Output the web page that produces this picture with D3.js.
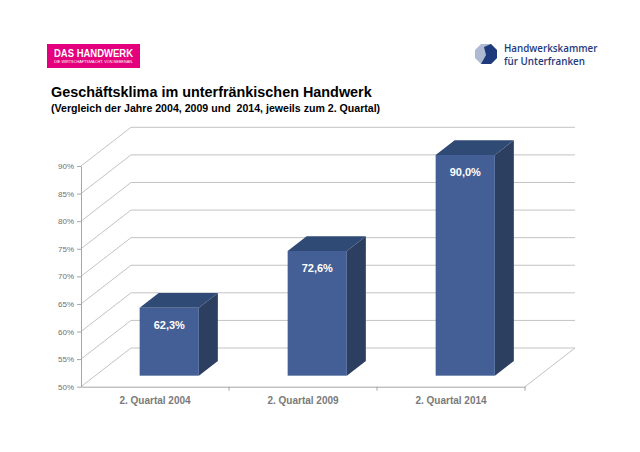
<!DOCTYPE html>
<html><head><meta charset="utf-8">
<script src="https://cdn.jsdelivr.net/npm/d3@7"></script>
<style>
html,body{margin:0;padding:0;background:#fff;}
svg{display:block;font-family:"Liberation Sans",Arial,sans-serif;}
</style></head>
<body>
<svg id="c" width="640" height="452"></svg>
<script>
const categories = ["2. Quartal 2004", "2. Quartal 2009", "2. Quartal 2014"];
const values = [62.3, 72.6, 90.0];
const valueLabels = ["62,3%", "72,6%", "90,0%"];
const yTicks = [50, 55, 60, 65, 70, 75, 80, 85, 90];
const title = "Geschäftsklima im unterfränkischen Handwerk";
const subtitle = "(Vergleich der Jahre 2004, 2009 und  2014, jeweils zum 2. Quartal)";

const svg = d3.select("#c");
const x = d3.scaleBand().domain(categories).range([81, 525]).padding(0);
const y = d3.scaleLinear().domain([50, 90]).range([386.7, 166]);
const DX = 50, DY = -38.7;           // depth of the plot box
const f0 = 0.285, fd = 0.38;         // bar depth start and bar depth
const barW = x.bandwidth() * 0.4;
const gridCol = "#c3c3c3";

// ---- logos ----
const lg = svg.append("g");
lg.append("rect").attr("x", 47).attr("y", 44).attr("width", 93).attr("height", 24).attr("fill", "#e4007c");
lg.append("text").attr("x", 54).attr("y", 57).attr("fill", "#fff").attr("font-weight", "bold")
  .attr("font-size", 10.5).attr("textLength", 79).attr("lengthAdjust", "spacingAndGlyphs").text("DAS HANDWERK");
lg.append("text").attr("x", 54).attr("y", 63).attr("fill", "#fff")
  .attr("font-size", 4).attr("textLength", 79).attr("lengthAdjust", "spacingAndGlyphs").text("DIE WIRTSCHAFTSMACHT. VON NEBENAN.");

const rg = svg.append("g");
rg.append("polygon").attr("points", "481,44 491,44 497,50 497,58 491,64 481,64 475,58 475,50").attr("fill", "#aeb9d2");
rg.append("polygon").attr("points", "484,47 491,44 497,50 497,58 491,64 481,64 486,55").attr("fill", "#1f3a7c");
rg.append("text").attr("x", 504).attr("y", 51.5).attr("fill", "#1f3a7c").attr("font-family", "'Open Sans',sans-serif")
  .attr("font-weight", 600).attr("font-size", 9.8).text("Handwerkskammer");
rg.append("text").attr("x", 504).attr("y", 65).attr("fill", "#1f3a7c").attr("font-family", "'Open Sans',sans-serif")
  .attr("font-weight", 600).attr("font-size", 9.8).text("für Unterfranken");

// ---- titles ----
svg.append("text").attr("x", 51).attr("y", 97).attr("font-weight", "bold").attr("font-size", 14.4)
  .attr("fill", "#000").text(title);
svg.append("text").attr("x", 51).attr("y", 111.5).attr("font-weight", "bold").attr("font-size", 10.6)
  .attr("fill", "#000").style("white-space", "pre").text(subtitle);

// ---- grid: back wall and left wall ----
const grid = svg.append("g").attr("stroke", gridCol).attr("stroke-width", 1).attr("fill", "none");
grid.selectAll("line.back").data(yTicks).join("line").attr("class", "back")
  .attr("x1", x.range()[0] + DX).attr("x2", x.range()[1] + DX)
  .attr("y1", d => y(d) + DY).attr("y2", d => y(d) + DY);
grid.selectAll("line.side").data(yTicks).join("line").attr("class", "side")
  .attr("x1", x.range()[0]).attr("x2", x.range()[0] + DX)
  .attr("y1", d => y(d)).attr("y2", d => y(d) + DY);
// floor right edge
grid.append("line").attr("x1", x.range()[1]).attr("y1", y(50)).attr("x2", x.range()[1] + DX).attr("y2", y(50) + DY);

// ---- axes ----
const yAxis = svg.append("g").attr("transform", `translate(${x.range()[0]},0)`)
  .call(d3.axisLeft(y).tickValues(yTicks).tickFormat(d => d + "%").tickSize(4).tickSizeOuter(0));
yAxis.select(".domain").attr("stroke", "#a6a6a6");
yAxis.selectAll(".tick line").attr("stroke", "#a6a6a6");
yAxis.selectAll(".tick text").attr("fill", "#707070").attr("font-size", 8).attr("font-family", "'Liberation Sans',Arial,sans-serif").attr("x", -7);

const xAxis = svg.append("g").attr("transform", `translate(0,${y(50)})`)
  .call(d3.axisBottom(x).tickSize(0).tickSizeOuter(0).tickPadding(10));
xAxis.select(".domain").attr("stroke", "#a6a6a6");
xAxis.selectAll(".tick text").attr("fill", "#7a7a7a").attr("font-size", 10).attr("font-weight", "bold")
  .attr("font-family", "'Liberation Sans',Arial,sans-serif");
xAxis.selectAll("line.sep").data(categories).join("line").attr("class", "sep")
  .attr("x1", d => x(d) + x.bandwidth()).attr("x2", d => x(d) + x.bandwidth())
  .attr("y1", 0).attr("y2", 4).attr("stroke", "#a6a6a6");

// ---- bars ----
const bars = svg.append("g").selectAll("g").data(categories).join("g");
const bx = (c) => x(c) + (x.bandwidth() - barW) / 2 + DX * f0;
const by0 = y(50) + DY * f0;
const yb = (v) => by0 - (y(50) - y(v));
const ddx = DX * fd, ddy = DY * fd;
// side
bars.append("polygon").attr("fill", "#2d3f61")
  .attr("points", (c, i) => {
    const r = bx(c) + barW, t = yb(values[i]);
    return [[r, t], [r + ddx, t + ddy], [r + ddx, by0 + ddy], [r, by0]].join(" ");
  });
// top
bars.append("polygon").attr("fill", "#304a76")
  .attr("points", (c, i) => {
    const l = bx(c), r = l + barW, t = yb(values[i]);
    return [[l, t], [l + ddx, t + ddy], [r + ddx, t + ddy], [r, t]].join(" ");
  });
// front
bars.append("rect").attr("fill", "#445f95")
  .attr("x", c => bx(c)).attr("width", barW)
  .attr("y", (c, i) => yb(values[i])).attr("height", (c, i) => by0 - yb(values[i]));
// value labels
bars.append("text").attr("fill", "#fff").attr("font-weight", "bold").attr("font-size", 11)
  .attr("text-anchor", "middle")
  .attr("x", c => bx(c) + barW / 2).attr("y", (c, i) => yb(values[i]) + 21)
  .text((c, i) => valueLabels[i]);
</script>
</body></html>
